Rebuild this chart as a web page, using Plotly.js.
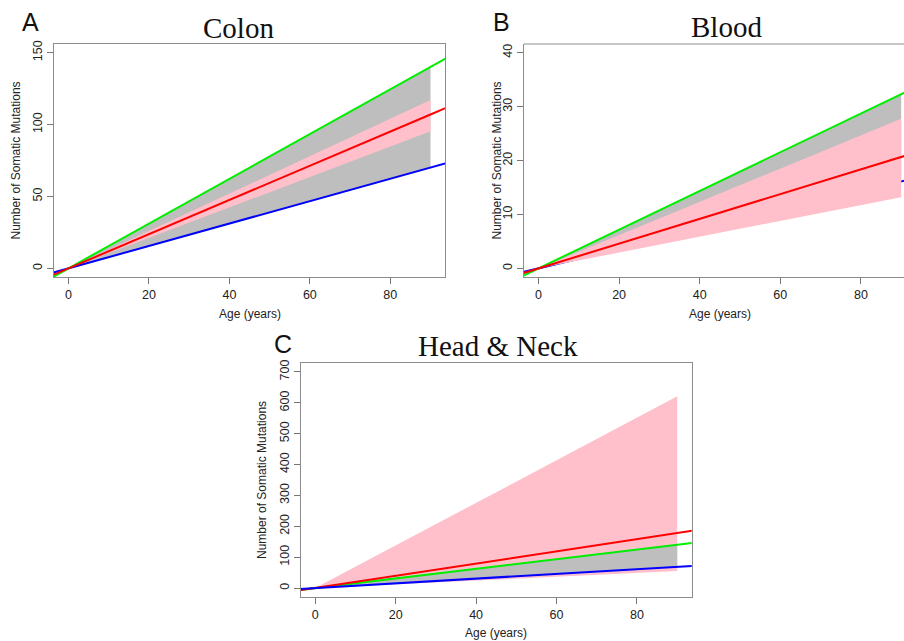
<!DOCTYPE html>
<html>
<head>
<meta charset="utf-8">
<script src="https://cdn.plot.ly/plotly-3.0.1.min.js"></script>
<style>html,body{margin:0;padding:0;background:#fff;}#chart{width:904px;height:641px;}</style>
</head>
<body>
<div id="chart"></div>
<script>
// ---------- data ----------
// ages at which the full-width reference lines are evaluated (lines are clipped by the axes)
const lineAges = [-5, 0, 90, 95];
// ages spanned by the shaded bands
const bandAges = [0, 90];

// Colon
const colonGreen = [-7.8, 0, 140.0, 147.8];
const colonRed   = [-5.9, 0, 107.0, 113.0];
const colonBlue  = [-3.9, 0, 70.1, 74.0];
const colonGrayUpper = [0, 140.0];
const colonGrayLower = [0, 70.1];
const colonPinkUpper = [0, 117.0];
const colonPinkLower = [0, 95.3];

// Blood
const bloodGreen = [-1.8, 0, 32.3, 34.1];
const bloodRed   = [-1.15, 0, 20.6, 21.8];
const bloodBlue  = [-0.9, 0, 16.1, 17.0];
const bloodGrayUpper = [0, 32.3];
const bloodGrayLower = [0, 16.1];
const bloodPinkUpper = [0, 27.75];
const bloodPinkLower = [0, 13.2];

// Head & Neck
const hnGreen = [-7.8, 0, 140.4, 148.2];
const hnRed   = [-9.9, 0, 178.0, 188.0];
const hnBlue  = [-3.8, 0, 68.8, 72.6];
const hnGrayUpper = [0, 142.0];
const hnGrayLower = [0, 68.8];
const hnPinkUpper = [0, 621.0];
const hnPinkLower = [0, 55.0];

// tick labels
const xTicks = [0, 20, 40, 60, 80];
const colonYTicks = [0, 50, 100, 150];
const bloodYTicks = [0, 10, 20, 30, 40];
const hnYTicks = [0, 100, 200, 300, 400, 500, 600, 700];

const panelTitles = ['Colon', 'Blood', 'Head & Neck'];
const panelLetters = ['A', 'B', 'C'];
const xTitle = 'Age (years)';
const yTitle = 'Number of Somatic Mutations';

// ---------- styles ----------
const GREEN = '#00ee00', RED = '#ff0000', BLUE = '#0000ff';
const GRAY = '#bebebe', PINK = '#ffc0cb';
const W = 904, H = 641;
const fx = p => p / W;
const fy = p => 1 - p / H;

function band(ax, upper, lower, color, xa, ya) {
  return {
    x: ax.concat(ax.slice().reverse()),
    y: upper.concat(lower.slice().reverse()),
    fill: 'toself', fillcolor: color, mode: 'lines',
    line: {width: 0, color: color}, hoverinfo: 'skip',
    xaxis: xa, yaxis: ya, showlegend: false
  };
}
function line(vals, color, xa, ya, w) {
  return {
    x: lineAges, y: vals, mode: 'lines',
    line: {color: color, width: w || 2},
    xaxis: xa, yaxis: ya, showlegend: false, hoverinfo: 'skip'
  };
}

const traces = [
  // Colon
  band(bandAges, colonGrayUpper, colonGrayLower, GRAY, 'x', 'y'),
  band(bandAges, colonPinkUpper, colonPinkLower, PINK, 'x', 'y'),
  line(colonBlue, BLUE, 'x', 'y'),
  line(colonGreen, GREEN, 'x', 'y'),
  line(colonRed, RED, 'x', 'y'),
  // Blood
  line(bloodBlue, BLUE, 'x2', 'y2'),
  band(bandAges, bloodGrayUpper, bloodGrayLower, GRAY, 'x2', 'y2'),
  band(bandAges, bloodPinkUpper, bloodPinkLower, PINK, 'x2', 'y2'),
  line(bloodGreen, GREEN, 'x2', 'y2'),
  line(bloodRed, RED, 'x2', 'y2'),
  // Head & Neck
  band(bandAges, hnPinkUpper, hnPinkLower, PINK, 'x3', 'y3'),
  band(bandAges, hnGrayUpper, hnGrayLower, GRAY, 'x3', 'y3'),
  line(hnGreen, GREEN, 'x3', 'y3'),
  line(hnRed, RED, 'x3', 'y3'),
  line(hnBlue, BLUE, 'x3', 'y3')
];

const tickFont = {family: 'Liberation Sans, Arial, sans-serif', size: 12.5, color: '#222'};
const BOX = '#8c8c8c';
function xaxis(domain, range, anchor, mirror) {
  return {
    domain: domain, range: range, anchor: anchor,
    tickvals: xTicks, ticktext: xTicks.map(String),
    ticks: 'outside', ticklen: 6, tickcolor: '#777', tickwidth: 1,
    showline: true, linecolor: BOX, linewidth: 1, mirror: mirror,
    showgrid: false, zeroline: false, tickfont: tickFont, fixedrange: true
  };
}
function yaxis(domain, range, anchor, ticks, mirror) {
  return {
    domain: domain, range: range, anchor: anchor,
    tickvals: ticks, ticktext: ticks.map(String), tickangle: -90,
    ticks: 'outside', ticklen: 6, tickcolor: '#777', tickwidth: 1,
    showline: true, linecolor: BOX, linewidth: 1, mirror: mirror,
    showgrid: false, zeroline: false, tickfont: tickFont, fixedrange: true
  };
}

const topA = fy(44), botA = fy(277);
const topC = fy(363.3), botC = fy(596.7);

const layout = {
  width: W, height: H,
  margin: {l: 0, r: 0, t: 0, b: 0},
  paper_bgcolor: '#fff', plot_bgcolor: '#fff',
  showlegend: false,
  xaxis:  xaxis([fx(54), fx(445)], [-3.6, 93.6], 'y', true),
  yaxis:  yaxis([botA, topA], [-6, 156], 'x', colonYTicks, true),
  xaxis2: xaxis([fx(524), 1], [-3.6, 90.7], 'y2', false),
  yaxis2: yaxis([botA, topA], [-1.6, 41.6], 'x2', bloodYTicks, false),
  xaxis3: xaxis([fx(300.7), fx(691.7)], [-3.6, 93.6], 'y3', true),
  yaxis3: yaxis([botC, topC], [-28, 728], 'x3', hnYTicks, true),
  shapes: [
    {type: 'line', xref: 'x2 domain', yref: 'y2 domain', x0: 0, x1: 1, y0: 1, y1: 1,
     line: {color: BOX, width: 1}}
  ],
  annotations: []
};

const titleFont = {family: 'Liberation Serif, Times New Roman, serif', size: 29, color: '#111'};
const letterFont = {family: 'Liberation Sans, Arial, sans-serif', size: 25, color: '#111'};
const axTitleFont = {family: 'Liberation Sans, Arial, sans-serif', size: 12, color: '#222'};

const titlePos = [[238, 28], [726.7, 27], [497.5, 346]];
const letterPos = [[30, 22], [501, 22], [283, 344]];
const xTitlePos = [[249.5, 314], [720, 314], [496, 633]];
const yTitlePos = [[15, 160.5], [496, 160.5], [262, 480]];

for (let i = 0; i < 3; i++) {
  layout.annotations.push({
    text: panelTitles[i], xref: 'paper', yref: 'paper',
    x: fx(titlePos[i][0]), y: fy(titlePos[i][1]), xanchor: 'center', yanchor: 'middle',
    showarrow: false, font: titleFont
  });
  layout.annotations.push({
    text: panelLetters[i], xref: 'paper', yref: 'paper',
    x: fx(letterPos[i][0]), y: fy(letterPos[i][1]), xanchor: 'center', yanchor: 'middle',
    showarrow: false, font: letterFont
  });
  layout.annotations.push({
    text: xTitle, xref: 'paper', yref: 'paper',
    x: fx(xTitlePos[i][0]), y: fy(xTitlePos[i][1]), xanchor: 'center', yanchor: 'middle',
    showarrow: false, font: axTitleFont
  });
  layout.annotations.push({
    text: yTitle, xref: 'paper', yref: 'paper', textangle: -90,
    x: fx(yTitlePos[i][0]), y: fy(yTitlePos[i][1]), xanchor: 'center', yanchor: 'middle',
    showarrow: false, font: axTitleFont
  });
}

Plotly.newPlot('chart', traces, layout, {staticPlot: true, displayModeBar: false});
</script>
</body>
</html>
